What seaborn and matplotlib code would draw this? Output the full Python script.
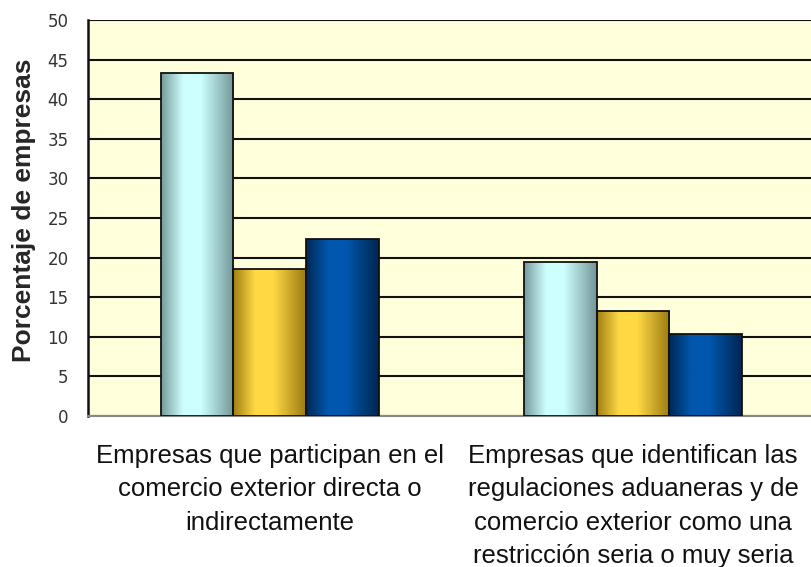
import numpy as np
import pandas as pd
import seaborn as sns
import matplotlib
matplotlib.use("Agg")
from matplotlib import pyplot as plt
from matplotlib.colors import to_rgb

categorias = ["Empresas que participan en el\ncomercio exterior directa o\nindirectamente",
              "Empresas que identifican las\nregulaciones aduaneras y de\ncomercio exterior como una\nrestricción seria o muy seria"]
series = ["Serie 1", "Serie 2", "Serie 3"]
serie1 = [43.3, 19.5]
serie2 = [18.5, 13.3]
serie3 = [22.3, 10.4]
yticks = [0, 5, 10, 15, 20, 25, 30, 35, 40, 45, 50]

# colores base (centro claro / borde oscuro) para el degradado
luz = ["#cdffff", "#ffd944", "#0057ad"]
sombra = ["#6d8e90", "#94740e", "#00224c"]

df = pd.DataFrame({
    "cat": categorias * 3,
    "serie": [series[0]] * 2 + [series[1]] * 2 + [series[2]] * 2,
    "valor": serie1 + serie2 + serie3,
})

sns.set_style("white")
plt.rcParams['font.family'] = ['Liberation Sans', 'DejaVu Sans']

fig = plt.figure(figsize=(8.11, 5.67), dpi=100)
ax = fig.add_axes([88/811, 1-416/567, 1-88/811, 396/567])
ax.set_facecolor("#ffffdb")

sns.barplot(data=df, x="cat", y="valor", hue="serie", hue_order=series,
            palette=luz, width=0.6, edgecolor="#111111", linewidth=1.3,
            legend=False, ax=ax, zorder=3)

# degradado horizontal dentro de cada barra
perfil_t = [0, 0.3, 0.55, 1.0]
perfil_v = [0.12, 1.0, 1.0, 0.08]
n = 60
tt = np.linspace(0, 1, n)
k = np.interp(tt, perfil_t, perfil_v)
for i, cont in enumerate(ax.containers):
    c1 = np.array(to_rgb(luz[i]))
    c0 = np.array(to_rgb(sombra[i]))
    grad = (c0[None, :] * (1 - k[:, None]) + c1[None, :] * k[:, None])[None, :, :]
    for p in cont.patches:
        x, y0 = p.get_x(), p.get_y()
        w, h = p.get_width(), p.get_height()
        im = ax.imshow(grad, extent=[x, x + w, y0, y0 + h], aspect="auto",
                       zorder=3.5, interpolation="bilinear")
        im.set_clip_path(p)
        p.set_facecolor("none")
        p.set_zorder(4)

ax.set_xlim(-0.5, 1.49)
ax.set_ylim(0, 50)
ax.set_yticks(yticks)
ax.set_yticklabels([str(v) for v in yticks], fontsize=12, color="#333333",
                   family="DejaVu Sans")
ax.tick_params(axis="y", length=0, pad=14)
ax.tick_params(axis="x", length=0, pad=20)
for lab in ax.get_xticklabels():
    lab.set_fontsize(18.5)
    lab.set_linespacing(1.5)
    lab.set_multialignment("center")
    lab.set_color("#111111")

ax.yaxis.grid(True, color="#111111", linewidth=1.5)
ax.xaxis.grid(False)
ax.set_axisbelow(True)

ax.spines["left"].set_color("#111111")
ax.spines["left"].set_linewidth(1.8)
ax.spines["bottom"].set_color("#888888")
ax.spines["bottom"].set_linewidth(1.5)
ax.spines["top"].set_visible(False)
ax.spines["right"].set_visible(False)

ax.set_xlabel("")
ax.set_ylabel("Porcentaje de empresas", fontsize=19, fontweight="bold")
ax.yaxis.set_label_coords(-52/723, 0.52)

fig.savefig("out.png", dpi=100)
